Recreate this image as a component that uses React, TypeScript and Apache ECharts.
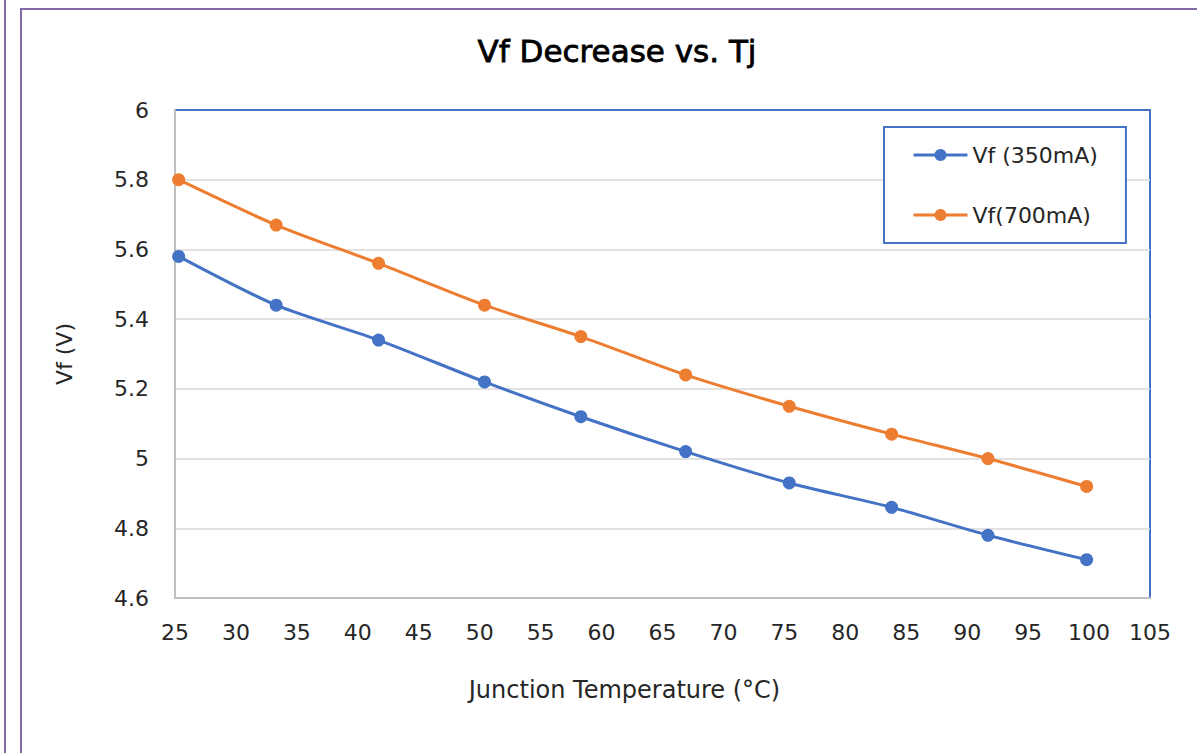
import React, { useEffect, useRef } from "react";
import * as echarts from "echarts";

const temps = [25.3, 33.3, 41.7, 50.4, 58.3, 66.9, 75.4, 83.8, 91.7, 99.8];
const vf350 = [5.58, 5.44, 5.34, 5.22, 5.12, 5.02, 4.93, 4.86, 4.78, 4.71];
const vf700 = [5.8, 5.67, 5.56, 5.44, 5.35, 5.24, 5.15, 5.07, 5.0, 4.92];
const seriesNames = ["Vf (350mA)", "Vf(700mA)"];
const titleText = "Vf Decrease vs. Tj";
const xName = "Junction Temperature (°C)";
const yName = "Vf (V)";

const FONT = "DejaVu Sans";
const BLUE = "#4472c4";
const ORANGE = "#ed7d31";
const FRAME = "#8069a6";
const GRIDC = "#d9d9d9";

export default function App() {
  const ref = useRef<HTMLDivElement>(null);
  useEffect(() => {
    if (!ref.current) return;
    const chart = echarts.init(ref.current, undefined, { renderer: "svg" });
    const pair = (xs: number[], ys: number[]) => xs.map((x, i) => [x, ys[i]]);
    chart.setOption({
      animation: false,
      backgroundColor: "#ffffff",
      textStyle: { fontFamily: FONT, color: "#262626" },
      title: {
        text: titleText,
        left: 612,
        textAlign: "center",
        top: 30,
        textStyle: {
          fontFamily: FONT,
          fontSize: 31,
          fontWeight: "normal",
          color: "#000000",
          textBorderColor: "#000000",
          textBorderWidth: 0.8,
        },
      },
      legend: {
        orient: "vertical",
        left: 884,
        top: 127,
        padding: [16, 28, 16, 28],
        itemGap: 36,
        itemWidth: 54,
        itemHeight: 15,
        borderColor: BLUE,
        borderWidth: 2,
        backgroundColor: "#ffffff",
        lineStyle: { width: 3 },
        textStyle: { fontFamily: FONT, fontSize: 22, color: "#262626", lineHeight: 24 },
        data: seriesNames,
      },
      grid: {
        left: 175,
        top: 110,
        right: 47,
        bottom: 155,
        show: true,
        borderColor: BLUE,
        borderWidth: 2,
        containLabel: false,
      },
      xAxis: {
        type: "value",
        min: 25,
        max: 105,
        interval: 5,
        name: xName,
        nameLocation: "middle",
        nameGap: 80,
        nameTextStyle: {
          fontFamily: FONT,
          fontSize: 24,
          color: "#262626",
          padding: [0, 76, 0, 0],
        },
        axisLine: { show: true, lineStyle: { color: "#bfbfbf", width: 2 } },
        axisTick: { show: false },
        splitLine: { show: false },
        axisLabel: { fontFamily: FONT, fontSize: 22, color: "#262626", margin: 23 },
      },
      yAxis: {
        type: "value",
        min: 4.6,
        max: 6,
        interval: 0.2,
        name: yName,
        nameLocation: "middle",
        nameGap: 100,
        nameTextStyle: { fontFamily: FONT, fontSize: 22, color: "#262626" },
        axisLine: { show: true, lineStyle: { color: "#bfbfbf", width: 2 } },
        axisTick: { show: false },
        splitLine: {
          show: true,
          lineStyle: {
            color: [GRIDC, GRIDC, GRIDC, GRIDC, GRIDC, GRIDC, GRIDC, BLUE],
            width: 1.5,
          },
        },
        axisLabel: {
          fontFamily: FONT,
          fontSize: 22,
          color: "#262626",
          margin: 26,
          formatter: (v: number) => String(Math.round(v * 10) / 10),
        },
      },
      series: [
        {
          name: seriesNames[0],
          type: "line",
          data: pair(temps, vf350),
          smooth: 0.25,
          symbol: "circle",
          symbolSize: 13,
          lineStyle: { color: BLUE, width: 3 },
          itemStyle: { color: BLUE },
        },
        {
          name: seriesNames[1],
          type: "line",
          data: pair(temps, vf700),
          smooth: 0.25,
          symbol: "circle",
          symbolSize: 13,
          lineStyle: { color: ORANGE, width: 3 },
          itemStyle: { color: ORANGE },
        },
      ],
      graphic: [
        {
          type: "line",
          shape: { x1: 5, y1: -5, x2: 5, y2: 760 },
          style: { stroke: FRAME, lineWidth: 2 },
          silent: true,
        },
        {
          type: "rect",
          shape: { x: 21, y: 9, width: 1400, height: 1000 },
          style: { stroke: FRAME, lineWidth: 2, fill: "none" },
          silent: true,
          z: -1,
        },
      ],
    });
    return () => chart.dispose();
  }, []);
  return (
    <div
      ref={ref}
      style={{ position: "fixed", left: 0, top: 0, width: 1197, height: 753 }}
    />
  );
}
